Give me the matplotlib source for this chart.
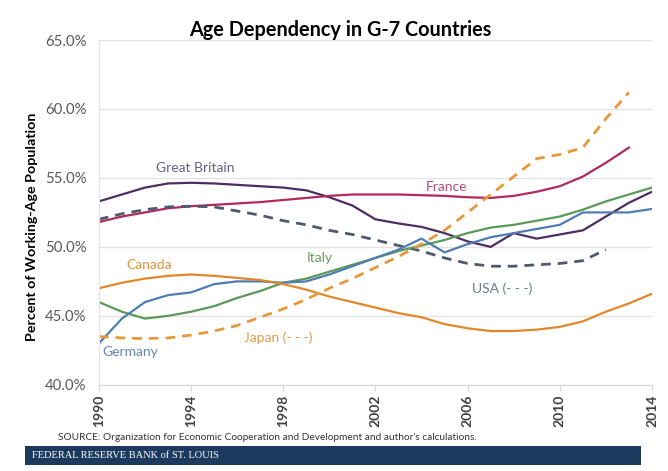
import matplotlib.pyplot as plt
from matplotlib.patches import Rectangle

# Data (percent of working-age population)
years = list(range(1990, 2015))

great_britain = [53.3, 53.8, 54.3, 54.6, 54.65, 54.6, 54.5, 54.4, 54.3, 54.1, 53.6, 53.0, 52.0, 51.7,
                 51.45, 51.0, 50.4, 50.0, 51.0, 50.6, 50.9, 51.2, 52.2, 53.2, 54.0]
france = [51.8, 52.2, 52.5, 52.8, 52.95, 53.05, 53.15, 53.25, 53.4, 53.55, 53.7, 53.8, 53.8, 53.8,
          53.75, 53.7, 53.6, 53.55, 53.7, 54.0, 54.4, 55.1, 56.1, 57.2]
usa = [52.0, 52.4, 52.7, 52.9, 52.95, 52.9, 52.6, 52.3, 51.9, 51.6, 51.2, 50.9, 50.5, 50.1,
       49.7, 49.2, 48.8, 48.6, 48.6, 48.7, 48.8, 49.0, 49.8]
italy = [46.0, 45.3, 44.8, 45.0, 45.3, 45.7, 46.3, 46.8, 47.4, 47.7, 48.2, 48.7, 49.2, 49.7,
         50.1, 50.5, 51.0, 51.4, 51.6, 51.9, 52.2, 52.7, 53.3, 53.8, 54.3]
germany = [43.0, 44.8, 46.0, 46.5, 46.7, 47.3, 47.5, 47.5, 47.4, 47.5, 48.0, 48.6, 49.2, 49.8,
           50.6, 49.6, 50.2, 50.7, 51.0, 51.3, 51.6, 52.5, 52.5, 52.5, 52.75]
canada = [47.0, 47.4, 47.7, 47.9, 48.0, 47.9, 47.75, 47.6, 47.3, 46.9, 46.4, 46.0, 45.6, 45.2,
          44.9, 44.4, 44.1, 43.9, 43.9, 44.0, 44.2, 44.6, 45.3, 45.9, 46.6]
japan = [43.5, 43.4, 43.35, 43.4, 43.6, 43.9, 44.3, 44.9, 45.5, 46.2, 47.0, 47.7, 48.5, 49.3,
         50.2, 51.2, 52.5, 53.8, 55.1, 56.4, 56.7, 57.2, 59.3, 61.2]

yticks = [40, 45, 50, 55, 60, 65]
xticks = [1990, 1994, 1998, 2002, 2006, 2010, 2014]

plt.rcParams['font.family'] = ['Lato', 'DejaVu Sans']

fig = plt.figure(figsize=(6.68, 4.71), dpi=100)
ax = fig.add_axes([0.148, 0.183, 0.828, 0.732])

c_gb, c_fr, c_us = '#4e2d62', '#b02a5e', '#4d5a6e'
c_it, c_de, c_ca, c_jp = '#5a9a56', '#4f7db3', '#e2882c', '#e6993c'

ax.plot(years, great_britain, color=c_gb, lw=1.6)
ax.plot(years[:len(france)], france, color=c_fr, lw=1.6)
ax.plot(years[:len(usa)], usa, color=c_us, lw=2, ls=(0, (3.5, 2.5)))
ax.plot(years, italy, color=c_it, lw=1.6)
ax.plot(years, germany, color=c_de, lw=1.6)
ax.plot(years, canada, color=c_ca, lw=1.6)
ax.plot(years[:len(japan)], japan, color=c_jp, lw=2, ls=(0, (3.5, 2.5)))

ax.set_xlim(1990, 2014)
ax.set_ylim(40, 65)
ax.set_yticks(yticks)
ax.set_yticklabels([f'{v:.1f}%' for v in yticks], color='#595959', fontsize=10.8)
ax.set_xticks(xticks)
ax.set_xticklabels([str(x) for x in xticks], rotation=90, fontsize=10, fontweight='bold', color='#404040')
ax.tick_params(axis='y', length=0, pad=9)
ax.tick_params(axis='x', length=4, color='#d9d9d9', pad=3)
ax.grid(axis='y', color='#e3e3e3', lw=1)
ax.set_axisbelow(True)
for s in ['top', 'right']:
    ax.spines[s].set_visible(False)
ax.spines['left'].set_color('#e3e3e3')
ax.spines['bottom'].set_color('#d9d9d9')

ax.set_ylabel('Percent of Working-Age Population', fontsize=10.3, fontweight='bold')
ax.yaxis.set_label_coords(-0.110, 0.458)

# line labels
lab = dict(fontsize=10, ha='center', va='center')
ax.text(1994.2, 55.75, 'Great Britain', color='#6b5c82', **lab)
ax.text(2005.1, 54.35, 'France', color='#b54a73', **lab)
ax.text(1999.6, 49.2, 'Italy', color='#6f9a5f', **lab)
ax.text(1992.2, 48.7, 'Canada', color='#e0913e', **lab)
ax.text(2007.5, 47.0, 'USA (- - -)', color='#6a7b93', **lab)
ax.text(1997.8, 43.4, 'Japan (- - -)', color='#e39a4a', **lab)
ax.text(1991.35, 42.4, 'Germany', color='#6386b6', **lab)

fig.text(0.51, 0.936, 'Age Dependency in G-7 Countries', ha='center', va='center',
         fontsize=14.3, fontweight='bold', color='#000000')

fig.text(0.087, 0.072, "SOURCE: Organization for Economic Cooperation and Development and author's calculations.",
         fontsize=7.3, color='#333333', va='center')

fig.patches.append(Rectangle((0.037, 0.012), 0.923, 0.042, transform=fig.transFigure,
                             facecolor='#1c3a5e', edgecolor='none'))
fig.text(0.048, 0.033, 'FEDERAL RESERVE BANK of ST. LOUIS', fontsize=7.5, color='white',
         va='center', family='Liberation Serif')

fig.savefig('out.png', dpi=100)
